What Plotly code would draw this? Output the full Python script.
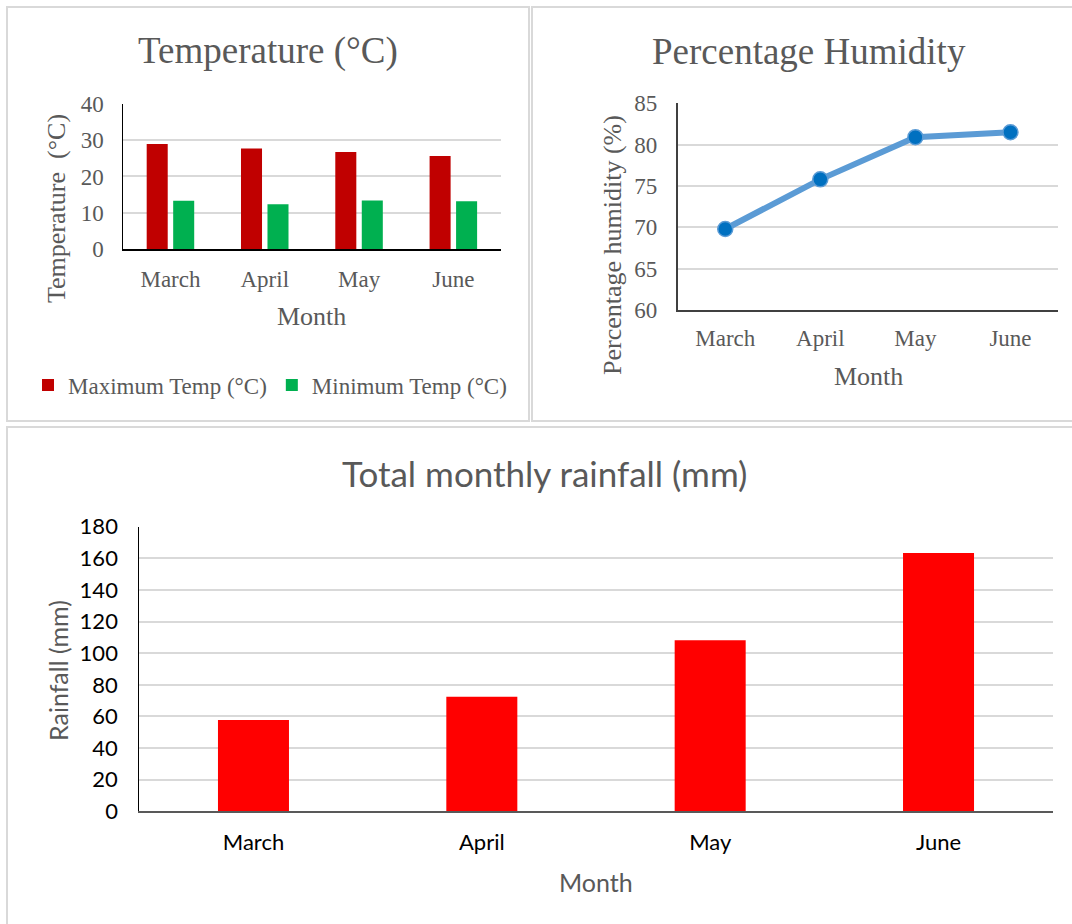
import plotly.graph_objects as go

# ---- data -------------------------------------------------------------
months = ["March", "April", "May", "June"]
max_temp = [28.9, 27.7, 26.7, 25.6]      # °C
min_temp = [13.3, 12.4, 13.4, 13.2]      # °C
humidity = [69.8, 75.8, 80.9, 81.5]      # %
rainfall = [57.7, 72.4, 108.2, 163.4]    # mm

# ---- helpers: pixel -> paper coordinates -------------------------------
W, H = 1072, 924


def fx(px):
    return px / W


def fy(py):
    return 1 - py / H


SERIF = "Liberation Serif, Times New Roman, serif"
SANS = "Lato, Carlito, Calibri, sans-serif"
GREY = "#595959"
GRID = "#d9d9d9"

fig = go.Figure()

# Temperature bars
fig.add_trace(go.Bar(
    x=months, y=max_temp, name="Maximum Temp (°C)",
    marker=dict(color="#C00000", line_width=0),
    width=0.223, offset=-0.252, xaxis="x", yaxis="y",
))
fig.add_trace(go.Bar(
    x=months, y=min_temp, name="Minimum Temp (°C)",
    marker=dict(color="#00B050", line_width=0),
    width=0.223, offset=0.029, xaxis="x", yaxis="y",
))

# Humidity line
fig.add_trace(go.Scatter(
    x=months, y=humidity, mode="lines+markers", showlegend=False,
    line=dict(color="#5B9BD5", width=6),
    marker=dict(size=15, color="#0070C0", line=dict(color="#5B9BD5", width=1.5)),
    xaxis="x2", yaxis="y2",
))

# Rainfall bars
fig.add_trace(go.Bar(
    x=months, y=rainfall, showlegend=False,
    marker=dict(color="#FF0000", line_width=0),
    width=0.311, xaxis="x3", yaxis="y3",
))


def xcat(domain, anchor, font, linecolor, linewidth, standoff):
    return dict(
        domain=domain, anchor=anchor, type="category", automargin=False,
        range=[-0.5, 3.5], showgrid=False, zeroline=False,
        showline=True, linecolor=linecolor, linewidth=linewidth,
        ticks="", tickfont=font, ticklabelstandoff=standoff,
        fixedrange=True,
    )


def yval(domain, anchor, rng, dtick, font, linecolor, linewidth, standoff):
    return dict(
        domain=domain, anchor=anchor, range=rng, dtick=dtick, automargin=False,
        showgrid=True, gridcolor=GRID, gridwidth=1.5, zeroline=False,
        showline=True, linecolor=linecolor, linewidth=linewidth,
        ticks="", tickfont=font, ticklabelstandoff=standoff,
        fixedrange=True,
    )


serif_tick = dict(family=SERIF, size=23, color=GREY)
sans_tick = dict(family=SANS, size=22, color="#000000")

fig.update_layout(
    width=W, height=H,
    margin=dict(l=0, r=0, t=0, b=0, autoexpand=False),
    paper_bgcolor="white", plot_bgcolor="white",
    font=dict(family=SERIF, color=GREY),
    barmode="group",
    showlegend=True,
    legend=dict(
        orientation="h", x=fx(270), xanchor="center", y=fy(385), yanchor="middle",
        font=dict(family=SERIF, size=23, color=GREY),
        bgcolor="rgba(0,0,0,0)", traceorder="normal", itemclick=False,
    ),
    xaxis=xcat([fx(123.3), fx(500.5)], "y", serif_tick, "#000000", 1.5, 8),
    yaxis=yval([fy(249.3), fy(103.6)], "x", [0, 40], 10, serif_tick, "#000000", 1, 14),
    xaxis2=xcat([fx(677.7), fx(1058)], "y2", serif_tick, "#404040", 1.5, 7),
    yaxis2=yval([fy(310), fy(103.3)], "x2", [60, 85], 5, serif_tick, "#404040", 1.5, 14),
    xaxis3=xcat([fx(139.3), fx(1052.7)], "y3", sans_tick, GREY, 2, 10),
    yaxis3=yval([fy(811.3), fy(526.7)], "x3", [0, 180], 20, sans_tick, "#000000", 1, 16),
)

# Panel frames
frames = [(7, 7, 529, 421), (532, 7, 1080, 421), (7, 427, 1080, 930)]
for x0, y0, x1, y1 in frames:
    fig.add_shape(
        type="rect", xref="paper", yref="paper",
        x0=fx(x0), x1=fx(x1), y0=fy(y0), y1=fy(y1),
        line=dict(color=GRID, width=2), fillcolor="rgba(0,0,0,0)", layer="below",
    )


def label(text, x, y, size, family, color, angle=0):
    fig.add_annotation(
        text=text, xref="paper", yref="paper", x=fx(x), y=fy(y),
        xanchor="center", yanchor="middle", showarrow=False, textangle=angle,
        font=dict(family=family, size=size, color=color),
    )


# Chart titles
label("Temperature (°C)", 268, 51, 37, SERIF, GREY)
label("Percentage Humidity", 809, 51, 37, SERIF, GREY)
label("Total monthly rainfall (mm)", 544, 473, 35, SANS, GREY)

# Axis titles
label("Temperature \u00a0(°C)", 57, 209, 26, SERIF, GREY, -90)
label("Month", 311, 316, 26, SERIF, GREY)
label("Percentage humidity (%)", 612, 245, 26, SERIF, GREY, -90)
label("Month", 868, 376, 26, SERIF, GREY)
label("Rainfall (mm)", 58, 670, 25, SANS, GREY, -90)
label("Month", 596, 882, 25, SANS, GREY)

fig.write_html("out.html")
